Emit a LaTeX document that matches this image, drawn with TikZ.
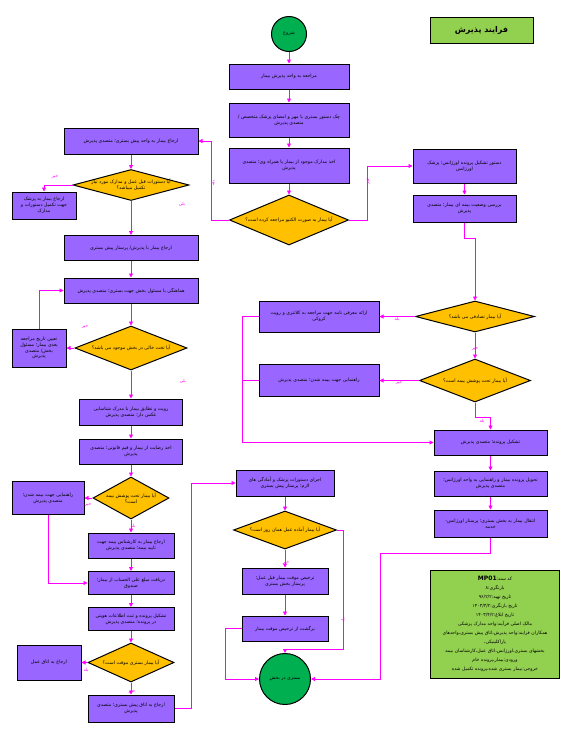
\documentclass[tikz,border=0pt]{standalone}
\usepackage{fontspec}
\usetikzlibrary{shapes.geometric, arrows.meta, positioning}
\newfontfamily\fafont[Script=Arabic]{DejaVu Sans}
\TeXXeTstate=1
\definecolor{procfill}{RGB}{153,102,255}
\definecolor{decfill}{RGB}{255,192,0}
\definecolor{termfill}{RGB}{0,176,80}
\definecolor{notefill}{RGB}{146,208,80}
\definecolor{flowc}{RGB}{255,0,255}
\newcommand\fa[1]{\beginR #1\endR}
\newcommand\boxfont{\fafont\fontsize{4.7}{5.8}\selectfont}

\begin{document}
\begin{tikzpicture}[x=1pt, y=-1pt,
	proc/.style={draw=black, line width=1pt, fill=procfill, text width=#1pt, align=center, inner xsep=2pt, inner ysep=1pt, font=\boxfont},
	dec/.style={diamond, draw=black, line width=1pt, fill=decfill, inner sep=0pt},
	dectext/.style={font=\boxfont, align=center, inner sep=0pt},
	term/.style={circle, draw=black, line width=1pt, fill=termfill, inner sep=0pt, font=\boxfont},
	note/.style={draw=black, line width=0.8pt, fill=notefill, align=center},
	flow/.style={draw=flowc, line width=0.8pt, -{Triangle[length=4pt,width=4pt]}},
	lbl/.style={text=flowc, font=\fafont\fontsize{4.3}{4.3}\selectfont, inner sep=0pt}]
	\useasboundingbox[fill=white] (0,0) rectangle (572,737);
	
	% Title
	\node[note, minimum width=103, minimum height=26, font=\fafont\bfseries\fontsize{8}{9}\selectfont] (title) at (481.5,30) {\fa{فرایند پذیرش}};
	
	% Main column
	\node[term, minimum size=35] (start) at (289,34) {\fa{شروع}};
	\node[proc=116, minimum height=25] (visit) at (289,76.5) {\fa{مراجعه به واحد پذیرش بیمار}};
	\node[proc=116, minimum height=34] (order) at (289,120) {\fa{چک دستور بستری با مهر و امضای پزشک متخصص /}\\\fa{متصدی پذیرش}};
	\node[proc=116, minimum height=35] (docs) at (289,165.5) {\fa{اخذ مدارک موجود از بیمار یا همراه وی؛ متصدی}\\\fa{پذیرش}};
	\node[dec, minimum width=119, minimum height=50, label={[dectext]center:{\beginR آیا بیمار به صورت الکتیو مراجعه کرده است؟\endR}}] (elective) at (289,220) {};
	
	% Emergency branch
	\node[proc=99, minimum height=34] (emerg) at (464.5,166) {\fa{دستور تشکیل پرونده اورژانس؛ پزشک}\\\fa{اورژانس}};
	\node[proc=99, minimum height=27] (insCheck) at (464.5,208.5) {\fa{بررسی وضعیت بیمه ای بیمار؛ متصدی}\\\fa{پذیرش}};
	\node[dec, minimum width=119, minimum height=31, label={[dectext]center:{\beginR آیا بیمار تصادفی می باشد؟\endR}}] (accident) at (475,316.5) {};
	\node[proc=116, minimum height=31] (police) at (319,316.5) {\fa{ارائه معرفی نامه جهت مراجعه به کلانتری و رویت}\\\fa{کروکی}};
	\node[dec, minimum width=111, minimum height=43, label={[dectext]center:{\beginR آیا بیمار تحت پوشش بیمه است؟\endR}}] (insR) at (475,380.5) {};
	\node[proc=116, minimum height=32] (guideR) at (319,380.5) {\fa{راهنمایی جهت بیمه شدن؛ متصدی پذیرش}};
	\node[proc=109, minimum height=25] (record) at (490.5,442.5) {\fa{تشکیل پرونده؛ متصدی پذیرش}};
	\node[proc=109, minimum height=25] (handover) at (490.5,483.5) {\fa{تحویل پرونده بیمار و راهنمایی به واحد اورژانس؛}\\\fa{متصدی پذیرش}};
	\node[proc=109, minimum height=27] (transfer) at (490.5,523.5) {\fa{انتقال بیمار به بخش بستری؛ پرستار اورژانس-}\\\fa{خدمه}};
	
	% Elective branch
	\node[proc=130, minimum height=26] (preref) at (131,141) {\fa{ارجاع بیمار به واحد پیش بستری؛ متصدی پذیرش}};
	\node[dec, minimum width=116, minimum height=31, label={[dectext]center:{\beginR آیا دستورات قبل عمل و مدارک مورد نیاز\endR\\\beginR تکمیل میباشد؟\endR}}] (complete) at (131,185) {};
	\node[proc=60, minimum height=27] (toDoc) at (44,205.5) {\fa{ارجاع بیمار به پزشک}\\\fa{جهت تکمیل دستورات و}\\\fa{مدارک}};
	\node[proc=130, minimum height=25] (toNurse) at (131,248) {\fa{ارجاع بیمار با پذیرش/ پرستار پیش بستری}};
	\node[proc=130, minimum height=25] (coord) at (131,290.5) {\fa{هماهنگی با مسئول بخش جهت بستری؛ متصدی پذیرش}};
	\node[dec, minimum width=112, minimum height=44, label={[dectext]center:{\beginR آیا تخت خالی در بخش موجود می باشد؟\endR}}] (bed) at (131,348) {};
	\node[proc=50, minimum height=38] (nextDate) at (39,348) {\fa{تعیین تاریخ مراجعه}\\\fa{بعدی بیمار؛ مسئول}\\\fa{بخش/ متصدی}\\\fa{پذیرش}};
	\node[proc=99, minimum height=26] (verify) at (131,412) {\fa{رویت و تطابق بیمار با مدرک شناسایی}\\\fa{عکس دار؛ متصدی پذیرش}};
	\node[proc=99, minimum height=25] (consent) at (131,451.5) {\fa{اخذ رضایت از بیمار و قیم قانونی؛ متصدی}\\\fa{پذیرش}};
	\node[dec, minimum width=76, minimum height=42, label={[dectext]center:{\beginR آیا بیمار تحت پوشش بیمه\endR\\\beginR است؟\endR}}] (insL) at (131,498) {};
	\node[proc=68, minimum height=33] (guideL) at (48,498) {\fa{راهنمایی جهت بیمه شدن؛}\\\fa{متصدی پذیرش}};
	\node[proc=82, minimum height=25] (insExpert) at (131,545.5) {\fa{ارجاع بیمار به کارشناس بیمه جهت}\\\fa{تایید بیمه؛ متصدی پذیرش}};
	\node[proc=82, minimum height=23] (pay) at (131,583) {\fa{دریافت مبلغ علی الحساب از بیمار؛}\\\fa{صندوق}};
	\node[proc=82, minimum height=23] (file) at (131,619) {\fa{تشکیل پرونده و ثبت اطلاعات هویتی}\\\fa{در پرونده؛ متصدی پذیرش}};
	\node[dec, minimum width=86, minimum height=39, label={[dectext]center:{\beginR آیا بیمار بستری موقت است؟\endR}}] (temp) at (131,662.5) {};
	\node[proc=60, minimum height=35] (toOR) at (49,662.5) {\fa{ارجاع به اتاق عمل}};
	\node[proc=82, minimum height=27] (toPre) at (131,708.5) {\fa{ارجاع به اتاق پیش بستری؛ متصدی}\\\fa{پذیرش}};
	
	% Ward
	\node[proc=94, minimum height=26] (orders) at (285,483) {\fa{اجرای دستورات پزشک و آمادگی های}\\\fa{لازم؛ پرستار پیش بستری}};
	\node[dec, minimum width=103, minimum height=38, label={[dectext]center:{\beginR آیا بیمار آماده عمل همان روز است؟\endR}}] (sameDay) at (285,530) {};
	\node[proc=82, minimum height=26] (discharge) at (285,581) {\fa{ترخیص موقت بیمار قبل عمل؛}\\\fa{پرستار بخش بستری}};
	\node[proc=82, minimum height=25] (back) at (285,628.5) {\fa{برگشت از ترخیص موقت بیمار}};
	\node[term, minimum size=51] (stop) at (285,679) {\fa{بستری در بخش}};
	
	% Document info
	\node[note, text width=122pt, minimum height=108, font=\fafont\fontsize{4.6}{9}\selectfont] (info) at (495,624) {%
		\fa{کد سند:\beginL\textbf{\fontsize{6}{9}\selectfont MP01}\endL}\\
		\fa{بازنگری:۸}\\
		\fa{تاریخ تهیه:۹۶/۲/۲}\\
		\fa{تاریخ بازنگری:۱۴۰۳/۳/۲}\\
		\fa{تاریخ ابلاغ:۱۴۰۳/۴/۲}\\
		\fa{مالک اصلی فرآیند:واحد مدارک پزشکی}\\
		\fa{همکاران فرایند:واحد پذیرش،اتاق پیش بستری،واحدهای}\\
		\fa{پاراکلینیکی،}\\
		\fa{بخشهای بستری،اورژانس،اتاق عمل،کارشناسان بیمه}\\
		\fa{ورودی:بیمار،پرونده خام}\\
		\fa{خروجی:بیمار بستری شده،پرونده تکمیل شده}};
	
	% Straight connectors
	\foreach \a/\b in {start/visit, visit/order, order/docs, docs/elective, emerg/insCheck, accident/insR, accident/police, insR/guideR, record/handover, handover/transfer, preref/complete, complete/toNurse, toNurse/coord, coord/bed, bed/nextDate, bed/verify, verify/consent, consent/insL, insL/guideL, insL/insExpert, insExpert/pay, pay/file, file/temp, temp/toOR, temp/toPre, orders/sameDay, sameDay/discharge, discharge/back}
		\draw[flow] (\a) -- (\b);
	
	% Elbow connectors
	\coordinate (jR) at (380,553);
	\coordinate (jM) at (343,649);
	\draw[flow] (elective.west) -- ++(-18,0) |- (preref.east);
	\draw[flow] (elective.east) -- ++(18,0) |- (emerg.west);
	\draw[flow] (insCheck.south) -- ++(0,16) -| (accident.north);
	\draw[flow] (insR.south) -- ++(0,15) -| (record.north);
	\draw[flow] (police.west) -- ++(-16,0) |- (record.west);
	\draw[flowc, line width=0.8pt] (guideR.west) -- ++(-16,0);
	\draw[flow] (transfer.south) |- (jR) |- (stop.east);
	\draw[flow] (complete.west) -| (toDoc.north);
	\draw[flow] (nextDate.north) |- (coord.west);
	\draw[flow] (guideL.south) |- (pay.west);
	\draw[flow] (toPre.east) -- ++(17,0) |- (orders.west);
	\draw[flow] (sameDay.east) -| (jM) -| (stop.north);
	\draw[flow] (back.west) -- ++(-16,0) |- (stop.west);
	
	% Labels
	\node[lbl, rotate=90] (lElecYes) at (213,183) {\fa{بله}};
	\node[lbl, rotate=90] (lElecNo) at (368,181) {\fa{خیر}};
	\node[lbl, rotate=90] (lSameYes) at (343,620) {\fa{بله}};
	\foreach \n/\x/\y/\t in {CompNo/55/177/خیر, CompYes/182/204/بلی, BedNo/85/327/خیر, BedYes/183/381/بلی, InsLNo/88/505/خیر, InsLYes/133/526/بله, TempYes/86/670/بله, TempNo/132/692/خیر, AccYes/397/319/بله, AccNo/475/349/خیر, InsRNo/399/383/خیر, InsRYes/482/421/بله, SameNo/286/563/خیر}
		\node[lbl] (l\n) at (\x,\y) {\fa{\t}};
\end{tikzpicture}
\end{document}
